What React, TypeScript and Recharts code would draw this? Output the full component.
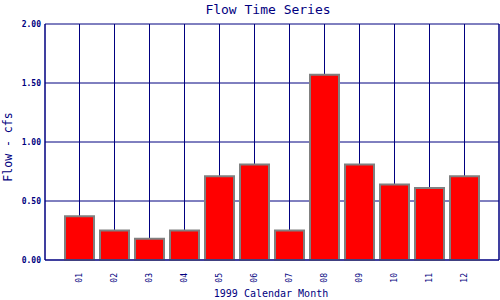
import { BarChart, Bar, XAxis, YAxis, CartesianGrid, Label } from 'recharts'

const months = ['01', '02', '03', '04', '05', '06', '07', '08', '09', '10', '11', '12']
const flow = [0.37, 0.25, 0.18, 0.25, 0.71, 0.81, 0.25, 1.57, 0.81, 0.64, 0.61, 0.71]
const yTicks = [0, 0.5, 1, 1.5, 2]

const navy = '#000080'
const mono = '"DejaVu Sans Mono", monospace'

const data = months.map((m, i) => ({ month: m, flow: flow[i] }))

function MonthTick({ x, y, payload }: any) {
  return (
    <text
      x={x}
      y={y + 5}
      transform={`rotate(-90, ${x}, ${y + 5})`}
      textAnchor="end"
      dy="0.35em"
      fill={navy}
      fontSize={8}
      fontFamily={mono}
    >
      {payload.value}
    </text>
  )
}

export default function App() {
  return (
    <div style={{ position: 'absolute', left: 0, top: 0, width: 500, height: 300, background: '#fff' }}>
      <BarChart width={500} height={300} data={data} margin={{ top: 24, right: 0, bottom: 0, left: 0 }}>
        <CartesianGrid stroke={navy} strokeWidth={1} />
        <XAxis
          dataKey="month"
          height={40}
          padding={{ left: 17, right: 17 }}
          stroke={navy}
          tickLine={false}
          tick={<MonthTick />}
          interval={0}
        >
          <Label
            content={() => (
              <text x={271} y={297} textAnchor="middle" fill={navy} fontSize={10} fontFamily={mono}>
                1999 Calendar Month
              </text>
            )}
          />
        </XAxis>
        <YAxis
          width={45}
          domain={[0, 2]}
          ticks={yTicks}
          tickFormatter={(v: number) => v.toFixed(2)}
          stroke={navy}
          tickLine={false}
          tickSize={0}
          tickMargin={4}
          tick={{ fill: navy, fontSize: 8, fontFamily: mono, fontWeight: 'bold' }}
        >
          <Label
            content={() => (
              <g>
                <text x={268} y={14} textAnchor="middle" fill={navy} fontSize={13} fontFamily={mono}>
                  Flow Time Series
                </text>
                <text
                  x={8}
                  y={147}
                  transform="rotate(-90, 8, 147)"
                  textAnchor="middle"
                  dy="0.35em"
                  fill={navy}
                  fontSize={11.5}
                  fontFamily={mono}
                >
                  Flow - cfs
                </text>
              </g>
            )}
          />
        </YAxis>
        <YAxis yAxisId="r" orientation="right" width={1} domain={[0, 2]} tick={false} tickLine={false} stroke={navy} />
        <Bar dataKey="flow" fill="#ff0000" stroke="#808080" strokeWidth={2} barSize={29} isAnimationActive={false} />
      </BarChart>
    </div>
  )
}
